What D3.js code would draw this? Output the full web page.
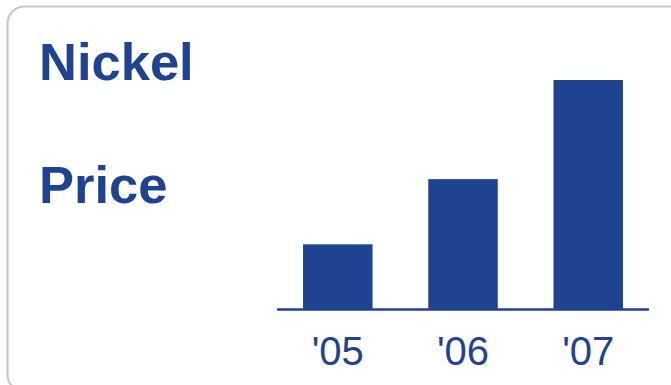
<!DOCTYPE html>
<html>
<head>
<meta charset="utf-8">
<script src="https://cdn.jsdelivr.net/npm/d3@7"></script>
<style>
  html, body { margin: 0; padding: 0; background: #fff; }
  svg { display: block; }
</style>
</head>
<body>
<svg id="chart" width="671" height="385"></svg>
<script>
// Nickel price index by year (relative units)
const years = ["'05", "'06", "'07"];
const prices = [28.4, 56.8, 100];
const titleLines = ["Nickel", "Price"];

const blue = "#1f4391";
const svg = d3.select("#chart");

// rounded card outline, clipped by the window on the right and bottom
svg.append("rect")
  .attr("x", 7.5).attr("y", 6.5)
  .attr("width", 690).attr("height", 385)
  .attr("rx", 17).attr("ry", 17)
  .attr("fill", "#fff")
  .attr("stroke", "#c8c8c8")
  .attr("stroke-width", 2.2);

// title
svg.selectAll("text.title")
  .data(titleLines)
  .join("text")
  .attr("class", "title")
  .attr("x", 39)
  .attr("y", (d, i) => 80 + i * 123)
  .attr("font-family", "Liberation Sans, Arial, sans-serif")
  .attr("font-weight", "bold")
  .attr("font-size", 52.5)
  .attr("fill", blue)
  .text(d => d);

// plot area
const plot = { left: 277, right: 649, top: 80, bottom: 309.5 };

const x = d3.scaleBand()
  .domain(years)
  .range([278, 648])
  .paddingInner(0.445)
  .paddingOuter(0.2);

const y = d3.scaleLinear()
  .domain([0, 100])
  .range([plot.bottom, plot.top]);

svg.append("g")
  .selectAll("rect")
  .data(years.map((yr, i) => ({ yr, v: prices[i] })))
  .join("rect")
  .attr("x", d => x(d.yr))
  .attr("width", x.bandwidth())
  .attr("y", d => y(d.v))
  .attr("height", d => y(0) - y(d.v))
  .attr("fill", blue);

// baseline axis with year labels
const axis = d3.axisBottom(x).tickSize(0).tickPadding(27);
const gx = svg.append("g")
  .attr("transform", `translate(0,${plot.bottom})`)
  .call(axis);
gx.select(".domain")
  .attr("d", `M${plot.left},0H${plot.right}`)
  .attr("stroke", blue)
  .attr("stroke-width", 2.6);
gx.selectAll(".tick text")
  .attr("font-family", "Liberation Sans, Arial, sans-serif")
  .attr("font-size", 40)
  .attr("fill", blue)
  .attr("dy", "0.71em");
</script>
</body>
</html>
